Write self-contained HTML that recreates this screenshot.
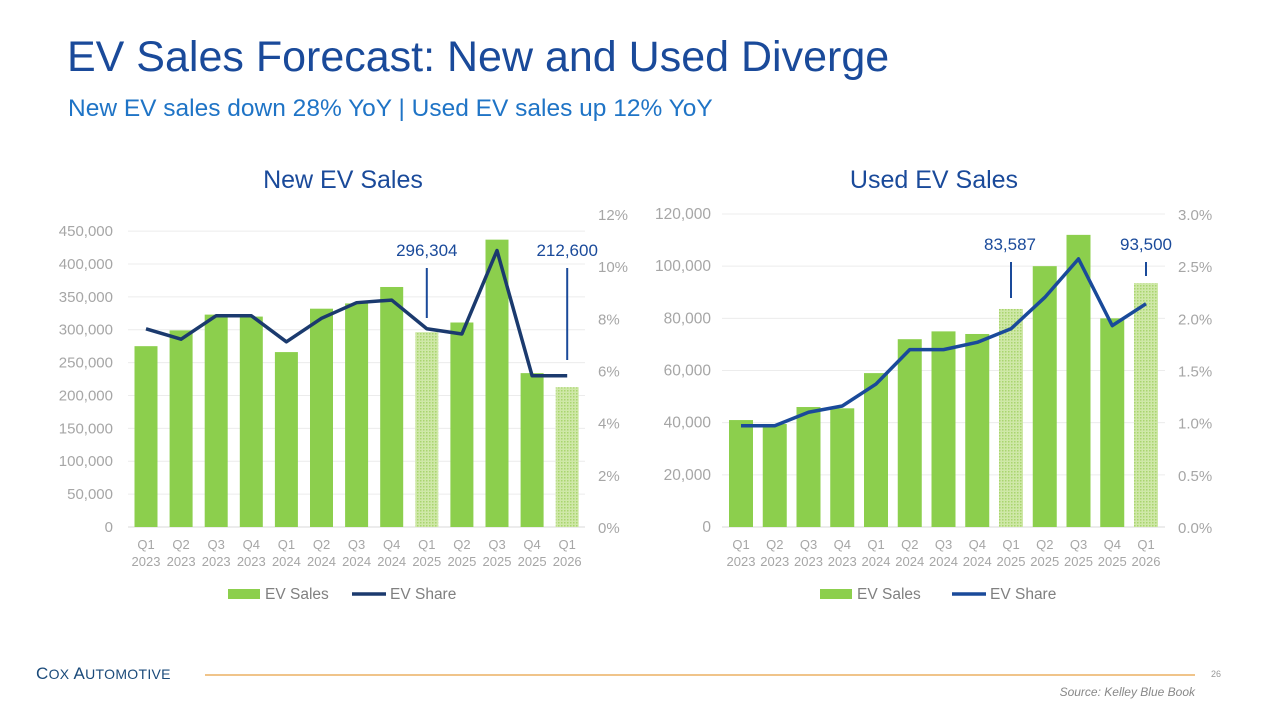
<!DOCTYPE html>
<html><head><meta charset="utf-8">
<style>
html,body{margin:0;padding:0;background:#fff;}
body{width:1280px;height:707px;position:relative;overflow:hidden;font-family:"Liberation Sans",sans-serif;}
.abs{position:absolute;white-space:nowrap;}
</style></head>
<body>
<div class="abs" style="left:67px;top:33px;font-size:43px;color:#1a4a9a;">EV Sales Forecast: New and Used Diverge</div>
<div class="abs" style="left:68px;top:95px;font-size:24.5px;color:#1f74c6;">New EV sales down 28% YoY | Used EV sales up 12% YoY</div>
<svg id="chart" width="1280" height="707" style="position:absolute;left:0;top:0;">
<defs>
<pattern id="hatch" width="3" height="3" patternUnits="userSpaceOnUse">
<rect width="3" height="3" fill="#cfe8a8"/><rect width="1.5" height="1.5" fill="#a9d56e"/>
</pattern>
</defs>
</svg>
<div class="abs" style="left:36px;top:664px;font-size:17px;color:#1a4a7a;letter-spacing:0.3px;">C<span style="font-size:14px">OX</span> A<span style="font-size:14px">UTOMOTIVE</span></div>
<div class="abs" style="left:205px;top:674px;width:990px;height:2px;background:#f0c48a;"></div>
<div class="abs" style="left:1211px;top:669px;font-size:9px;color:#999;">26</div>
<div class="abs" style="right:85px;top:685px;font-size:12px;font-style:italic;color:#888;">Source: Kelley Blue Book</div>
<script>
const NS='http://www.w3.org/2000/svg';
const svg=document.getElementById('chart');
const categoriesQ=['Q1','Q2','Q3','Q4','Q1','Q2','Q3','Q4','Q1','Q2','Q3','Q4','Q1'];
const categoriesY=['2023','2023','2023','2023','2024','2024','2024','2024','2025','2025','2025','2025','2026'];
const forecastFlags=[0,0,0,0,0,0,0,0,1,0,0,0,1];
const newSales=[275000,299000,323000,320000,266000,332000,340000,365000,296304,311000,437000,234000,212600];
const newShare=[7.6,7.2,8.1,8.1,7.1,8.0,8.6,8.7,7.6,7.4,10.6,5.8,5.8];
const newLeftTicks=[0,50000,100000,150000,200000,250000,300000,350000,400000,450000];
const newRightTicks=[0,2,4,6,8,10,12];
const usedSales=[41000,39500,46000,45500,59000,72000,75000,74000,83587,100000,112000,80000,93500];
const usedShare=[0.97,0.97,1.1,1.16,1.37,1.7,1.7,1.77,1.9,2.2,2.57,1.93,2.14];
const usedLeftTicks=[0,20000,40000,60000,80000,100000,120000];
const usedRightTicks=[0,0.5,1.0,1.5,2.0,2.5,3.0];

function el(t,a,p){const e=document.createElementNS(NS,t);for(const k in a)e.setAttribute(k,a[k]);(p||svg).appendChild(e);return e;}
function txt(s,a,p){const e=el('text',a,p);e.textContent=s;return e;}
const fmt=v=>v.toLocaleString('en-US');

function drawChart(o){
  const g=el('g',{});
  
  
  const y0=527, yTop=214;
  const yL=v=>y0-(v/o.leftMax)*(y0-yTop);
  const yR=v=>y0-(v/o.rightMax)*(y0-yTop);
  const xC=i=>o.x0+i*o.step;
  const t=txt(o.title,{x:o.titleX,y:188,'text-anchor':'middle','font-size':25,fill:'#1a4a9a'},g);
  
  
  o.leftTicks.forEach(v=>{
    const gl=el('line',{x1:o.gx1,x2:o.gx2,y1:yL(v),y2:yL(v),stroke:v===0?'#d9d9d9':'#ececec','stroke-width':1},g);
    
    
    const lt=txt(fmt(v),{x:o.lx,y:yL(v)+5,'text-anchor':'end','font-size':o.lfs,fill:'#a6a6a6'},g);
    
    
  });
  o.rightTicks.forEach(v=>{
    const rt=txt(o.rfmt(v),{x:o.rx,y:yR(v)+6,'text-anchor':'start','font-size':15,fill:'#a6a6a6'},g);
    
    
  });
  o.sales.forEach((v,i)=>{
    const b=el('rect',{x:xC(i)-o.bw/2,y:yL(v),width:o.bw,height:y0-yL(v),fill:forecastFlags[i]?'url(#hatch)':'#8ccf4d'},g);
    
    
    const a=txt(categoriesQ[i],{x:xC(i),y:549,'text-anchor':'middle','font-size':13,fill:'#a6a6a6'},g);
    
    
    const c=txt(categoriesY[i],{x:xC(i),y:566,'text-anchor':'middle','font-size':13,fill:'#a6a6a6'},g);
    
    
  });
  const pts=o.share.map((v,i)=>xC(i)+','+yR(v)).join(' ');
  const pl=el('polyline',{points:pts,fill:'none',stroke:o.lineColor,'stroke-width':3.5,'stroke-linejoin':'round'},g);
  
  
  o.callouts.forEach(ci=>{
    const v=o.sales[ci];
    const ct=txt(fmt(v),{x:xC(ci)+o.calloutDx[ci===o.callouts[0]?0:1],y:o.calloutY,'text-anchor':'middle','font-size':17,fill:'#1a4a9a'},g);
    
    
    const cl=el('line',{x1:xC(ci),x2:xC(ci),y1:o.calloutY+12,y2:o.calloutEnd[ci===o.callouts[0]?0:1],stroke:'#1a4a9a','stroke-width':2},g);
    
    
  });
  const lg=el('g',{},g);
  
  
  const lr=el('rect',{x:o.legX,y:589,width:32,height:10,fill:'#8ccf4d'},lg);
  
  
  const l1=txt('EV Sales',{x:o.legX+37,y:599,'font-size':15.5,fill:'#808080'},lg);
  
  
  const ll=el('line',{x1:o.legX2,x2:o.legX2+34,y1:594,y2:594,stroke:o.lineColor,'stroke-width':3.5},lg);
  
  
  const l2=txt('EV Share',{x:o.legX2+38,y:599,'font-size':15.5,fill:'#808080'},lg);
  
  
}
drawChart({name:'new-ev-sales-chart',title:'New EV Sales',titleX:343,x0:146,step:35.1,bw:23,leftMax:476000,rightMax:12,
  sales:newSales,share:newShare,leftTicks:newLeftTicks,rightTicks:newRightTicks,rfmt:v=>v+'%',lfs:15,
  gx1:128,gx2:585,lx:113,rx:598,lineColor:'#1b3a6e',callouts:[8,12],calloutDx:[0,0],calloutY:256,calloutEnd:[318,360],legX:228,legX2:352});
drawChart({name:'used-ev-sales-chart',title:'Used EV Sales',titleX:934,x0:741,step:33.75,bw:24,leftMax:120000,rightMax:3,
  sales:usedSales,share:usedShare,leftTicks:usedLeftTicks,rightTicks:usedRightTicks,rfmt:v=>v.toFixed(1)+'%',lfs:15.5,
  gx1:722,gx2:1165,lx:711,rx:1178,lineColor:'#1a4a9a',callouts:[8,12],calloutDx:[-1,0],calloutY:250,calloutEnd:[298,276],legX:820,legX2:952});
</script>
</body></html>
